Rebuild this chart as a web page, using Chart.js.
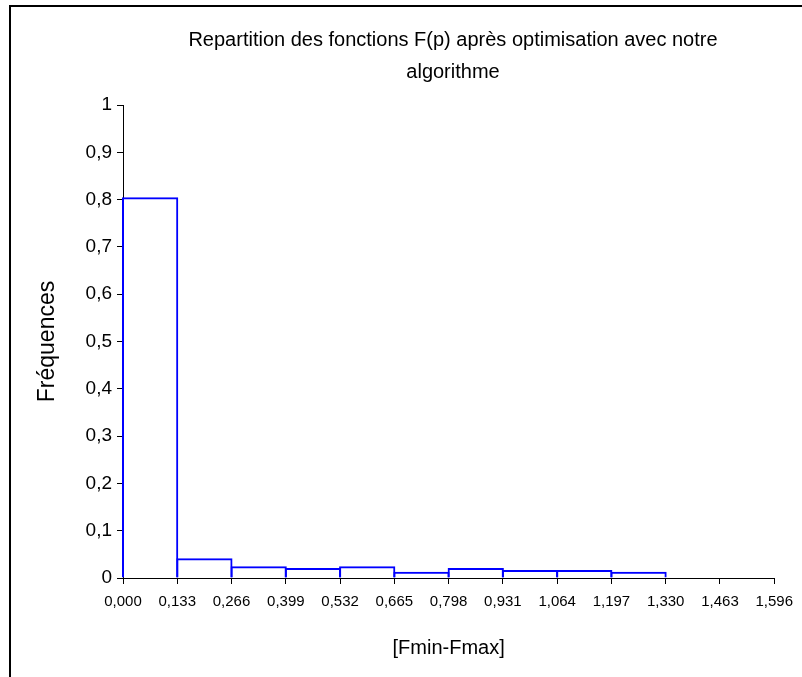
<!DOCTYPE html>
<html>
<head>
<meta charset="utf-8">
<script src="https://cdn.jsdelivr.net/npm/chart.js@4"></script>
<style>
  html, body { margin: 0; padding: 0; background: #fff; }
  #wrap { width: 802px; height: 677px; }
</style>
</head>
<body>
<div id="wrap"><canvas id="c" width="802" height="677"></canvas></div>
<script>
// ---- data ----
const binEdges = [0.000, 0.133, 0.266, 0.399, 0.532, 0.665, 0.798, 0.931, 1.064, 1.197, 1.330, 1.463, 1.596];
const xTickLabels = ['0,000', '0,133', '0,266', '0,399', '0,532', '0,665', '0,798', '0,931', '1,064', '1,197', '1,330', '1,463', '1,596'];
const frequencies = [0.805, 0.042, 0.025, 0.021, 0.025, 0.013, 0.021, 0.017, 0.017, 0.013, 0, 0];
const yTickValues = [0, 0.1, 0.2, 0.3, 0.4, 0.5, 0.6, 0.7, 0.8, 0.9, 1];
const yTickLabels = ['0', '0,1', '0,2', '0,3', '0,4', '0,5', '0,6', '0,7', '0,8', '0,9', '1'];
const titleLines = ['Repartition des fonctions F(p) après optimisation avec notre', 'algorithme'];
const xTitle = '[Fmin-Fmax]';
const yTitle = 'Fréquences';

const points = frequencies.map((f, i) => ({ x: (binEdges[i] + binEdges[i + 1]) / 2, y: f }));
const FONT = "'Liberation Sans', Arial, sans-serif";

const framePlugin = {
  id: 'frame',
  beforeDraw(chart) {
    const ctx = chart.ctx;
    ctx.save();
    ctx.fillStyle = '#fff';
    ctx.fillRect(0, 0, chart.width, chart.height);
    ctx.restore();
  },
  afterDraw(chart) {
    const ctx = chart.ctx;
    ctx.save();
    ctx.strokeStyle = '#000';
    ctx.lineWidth = 2;
    ctx.strokeRect(10, 6, 900, 900);
    ctx.restore();
  },
  afterLayout(chart) {
    if (chart.titleBlock) { chart.titleBlock.left = 104; chart.titleBlock.right = 802; }
  }
};

// bars slightly wider than a bin so that neighbouring 2px outlines overlap into one shared line
const BIN_PX = 652 / 12;

new Chart(document.getElementById('c'), {
  type: 'bar',
  data: {
    datasets: [{
      data: points,
      clip: false,
      backgroundColor: 'rgba(255,255,255,0)',
      borderColor: '#0000ff',
      borderWidth: { top: 2, left: 2, right: 2, bottom: 0 },
      borderSkipped: 'start',
      inflateAmount: 0,
      barPercentage: (BIN_PX + 2) / BIN_PX,
      categoryPercentage: 1
    }]
  },
  options: {
    responsive: false,
    animation: false,
    devicePixelRatio: 1,
    layout: { padding: { left: 0, right: 27, top: 0, bottom: 0 } },
    plugins: {
      legend: { display: false },
      tooltip: { enabled: false },
      title: {
        display: true,
        text: titleLines,
        color: '#000',
        font: { family: FONT, size: 20, weight: 'normal', lineHeight: 1.6 },
        padding: { top: 24, bottom: 17 }
      }
    },
    scales: {
      x: {
        type: 'linear',
        offset: false,
        min: binEdges[0],
        max: binEdges[binEdges.length - 1],
        afterFit(s) { s.height = 99; },
        afterBuildTicks(s) { s.ticks = binEdges.map(v => ({ value: v })); },
        ticks: {
          autoSkip: false, maxRotation: 0, minRotation: 0, padding: 9,
          color: '#000',
          font: { family: FONT, size: 15 },
          callback: (v, i) => xTickLabels[i]
        },
        grid: { display: true, offset: false, drawOnChartArea: false, drawTicks: true, tickLength: 6, color: '#000', lineWidth: 1 },
        border: { display: true, color: '#000', width: 1 },
        title: { display: true, text: xTitle, color: '#000', font: { family: FONT, size: 20 }, padding: { top: 0, bottom: 17 } }
      },
      y: {
        min: 0, max: 1,
        afterFit(s) { s.width = 123; },
        afterBuildTicks(s) { s.ticks = yTickValues.map(v => ({ value: v })); },
        ticks: {
          autoSkip: false, padding: 5,
          color: '#000',
          font: { family: FONT, size: 19 },
          callback: (v, i) => yTickLabels[i]
        },
        grid: { display: true, drawOnChartArea: false, drawTicks: true, tickLength: 6, color: '#000', lineWidth: 1 },
        border: { display: true, color: '#000', width: 1 },
        title: { display: true, text: yTitle, color: '#000', font: { family: FONT, size: 23 }, padding: { top: 34, bottom: 0 } }
      }
    }
  },
  plugins: [framePlugin]
});
</script>
</body>
</html>
